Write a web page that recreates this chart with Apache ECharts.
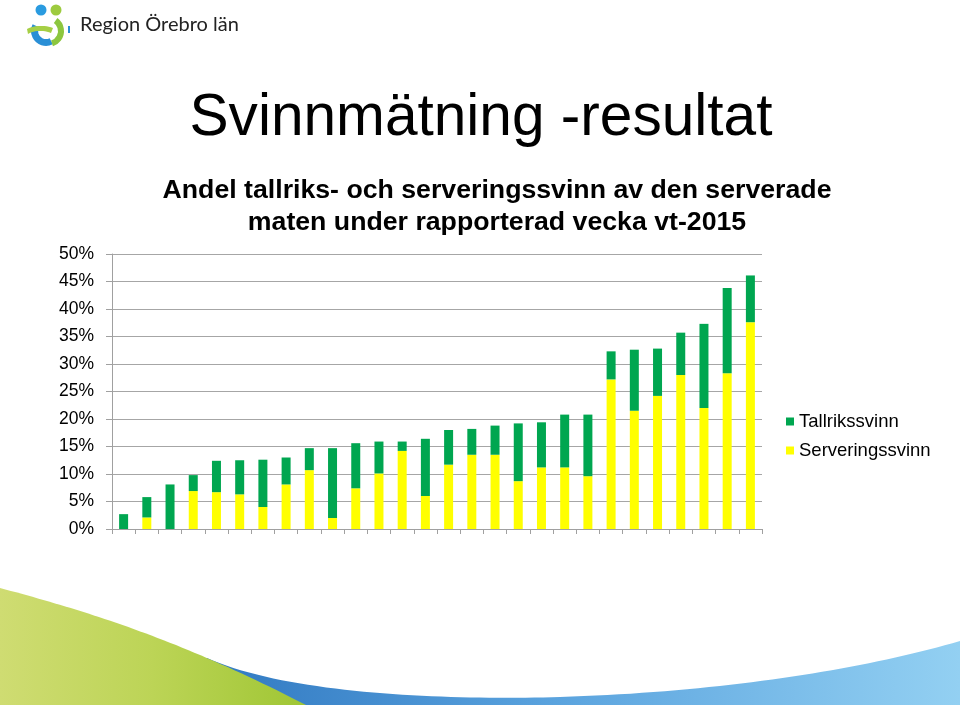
<!DOCTYPE html>
<html>
<head>
<meta charset="utf-8">
<script src="https://cdn.jsdelivr.net/npm/echarts@6/dist/echarts.min.js"></script>
<style>
html,body{margin:0;padding:0;background:#fff;}
#chart{width:960px;height:705px;}
</style>
</head>
<body>
<div id="chart"></div>
<script>
var categories = ['1','2','3','4','5','6','7','8','9','10','11','12','13','14','15','16','17','18','19','20','21','22','23','24','25','26','27','28'];
var serveringssvinn = [0, 2.1, 0, 6.9, 6.7, 6.3, 4.0, 8.1, 10.7, 2.0, 7.4, 10.1, 14.2, 6.0, 11.7, 13.5, 13.5, 8.7, 11.2, 11.2, 9.6, 27.2, 21.5, 24.2, 28.0, 22.0, 28.3, 37.6];
var tallrikssvinn = [2.7, 3.7, 8.1, 2.9, 5.7, 6.2, 8.6, 4.9, 4.0, 12.7, 8.2, 5.8, 1.7, 10.4, 6.3, 4.7, 5.3, 10.5, 8.2, 9.6, 11.2, 5.1, 11.1, 8.6, 7.7, 15.3, 15.5, 8.5];
var yTicks = [0, 5, 10, 15, 20, 25, 30, 35, 40, 45, 50];

function bez(p0, p1, p2, p3, n) {
  var pts = [];
  for (var i = 0; i <= n; i++) {
    var t = i / n, u = 1 - t;
    pts.push([
      u*u*u*p0[0] + 3*u*u*t*p1[0] + 3*u*t*t*p2[0] + t*t*t*p3[0],
      u*u*u*p0[1] + 3*u*u*t*p1[1] + 3*u*t*t*p2[1] + t*t*t*p3[1]
    ]);
  }
  return pts;
}
var bluePts = bez([207,658],[290,695],[450,700],[560,697],40)
  .concat(bez([560,697],[720,692],[860,670],[960,641],40))
  .concat([[960,705],[150,705]]);
var greenPts = bez([0,588],[90,612],[180,640],[306,705],50).concat([[0,705]]);
var swooshPts = bez([27,29],[35,25],[45,25],[53,28],12).concat(bez([51,33],[43,30],[35,30],[28,34],12));

var chart = echarts.init(document.getElementById('chart'));
var font = '"Liberation Sans", Arial, sans-serif';

var option = {
  backgroundColor: '#ffffff',
  animation: false,
  title: [
    {
      text: 'Svinnmätning -resultat',
      left: 481, top: 89, textAlign: 'center', padding: 0,
      textStyle: {fontFamily: font, fontSize: 58.6, fontWeight: 'normal', color: '#000'}
    },
    {
      text: 'Andel tallriks- och serveringssvinn av den serverade\nmaten under rapporterad vecka vt-2015',
      left: 497, top: 175, textAlign: 'center', padding: 0,
      textStyle: {fontFamily: font, fontSize: 26.7, fontWeight: 'bold', color: '#000', lineHeight: 32, align: 'center'}
    }
  ],
  legend: {
    data: ['Tallrikssvinn', 'Serveringssvinn'],
    orient: 'vertical',
    left: 781, top: 407,
    itemWidth: 8, itemHeight: 8, itemGap: 10,
    icon: 'rect',
    textStyle: {fontFamily: font, fontSize: 18.5, color: '#000'}
  },
  grid: {left: 112, right: 198, top: 254, bottom: 176, containLabel: false},
  xAxis: {
    type: 'category',
    data: categories,
    axisLine: {lineStyle: {color: '#a0a0a0', width: 1}},
    axisTick: {show: true, length: 5, lineStyle: {color: '#a0a0a0'}},
    axisLabel: {show: false},
    splitLine: {show: false}
  },
  yAxis: {
    type: 'value',
    min: 0, max: 50, interval: 5,
    axisLine: {show: true, lineStyle: {color: '#a0a0a0', width: 1}},
    axisTick: {show: true, length: 6, lineStyle: {color: '#a0a0a0'}},
    axisLabel: {
      margin: 18, fontFamily: font, fontSize: 17.5, color: '#000',
      formatter: function (v) { return yTicks.indexOf(v) >= 0 ? v + '%' : ''; }
    },
    splitLine: {show: true, lineStyle: {color: '#a6a6a6', width: 1}}
  },
  series: [
    {
      name: 'Serveringssvinn', type: 'bar', stack: 'tot',
      data: serveringssvinn, barWidth: 9,
      itemStyle: {color: '#ffff00'}
    },
    {
      name: 'Tallrikssvinn', type: 'bar', stack: 'tot',
      data: tallrikssvinn, barWidth: 9,
      itemStyle: {color: '#00a650'}
    }
  ],
  graphic: [
    {
      type: 'polygon', z: -10,
      shape: {points: bluePts},
      style: {fill: new echarts.graphic.LinearGradient(0, 0, 1, 0, [
        {offset: 0, color: '#2a72bd'}, {offset: 0.5, color: '#5aa3de'}, {offset: 1, color: '#93d0f2'}
      ])}
    },
    {
      type: 'polygon', z: -9,
      shape: {points: greenPts},
      style: {fill: new echarts.graphic.LinearGradient(0, 0, 1, 0, [
        {offset: 0, color: '#cfdc72'}, {offset: 0.5, color: '#bcd456'}, {offset: 1, color: '#9fc634'}
      ])}
    },
    {type: 'sector', shape: {cx: 46, cy: 31, r0: 8, r: 15, startAngle: Math.PI * 0.35, endAngle: Math.PI * 1.15, clockwise: true},
      style: {fill: '#2a8fd6'}},
    {type: 'sector', shape: {cx: 48, cy: 31, r0: 10, r: 16, startAngle: -Math.PI * 0.3, endAngle: Math.PI * 0.4, clockwise: true},
      style: {fill: '#8cc63f'}},
    {type: 'polygon', shape: {points: swooshPts}, style: {fill: '#a6cf45'}},
    {type: 'circle', shape: {cx: 41, cy: 10, r: 5.5}, style: {fill: '#2a9be0'}},
    {type: 'circle', shape: {cx: 56, cy: 10, r: 5.5}, style: {fill: '#9dcb3f'}},
    {type: 'rect', shape: {x: 68, y: 26, width: 2, height: 7}, style: {fill: '#2a8fd6'}},
    {type: 'text', left: 80, top: 15,
      style: {text: 'Region Örebro län', fontFamily: 'Lato, "Open Sans", sans-serif', fontSize: 20, fill: '#222'}}
  ]
};
chart.setOption(option);
</script>
</body>
</html>
